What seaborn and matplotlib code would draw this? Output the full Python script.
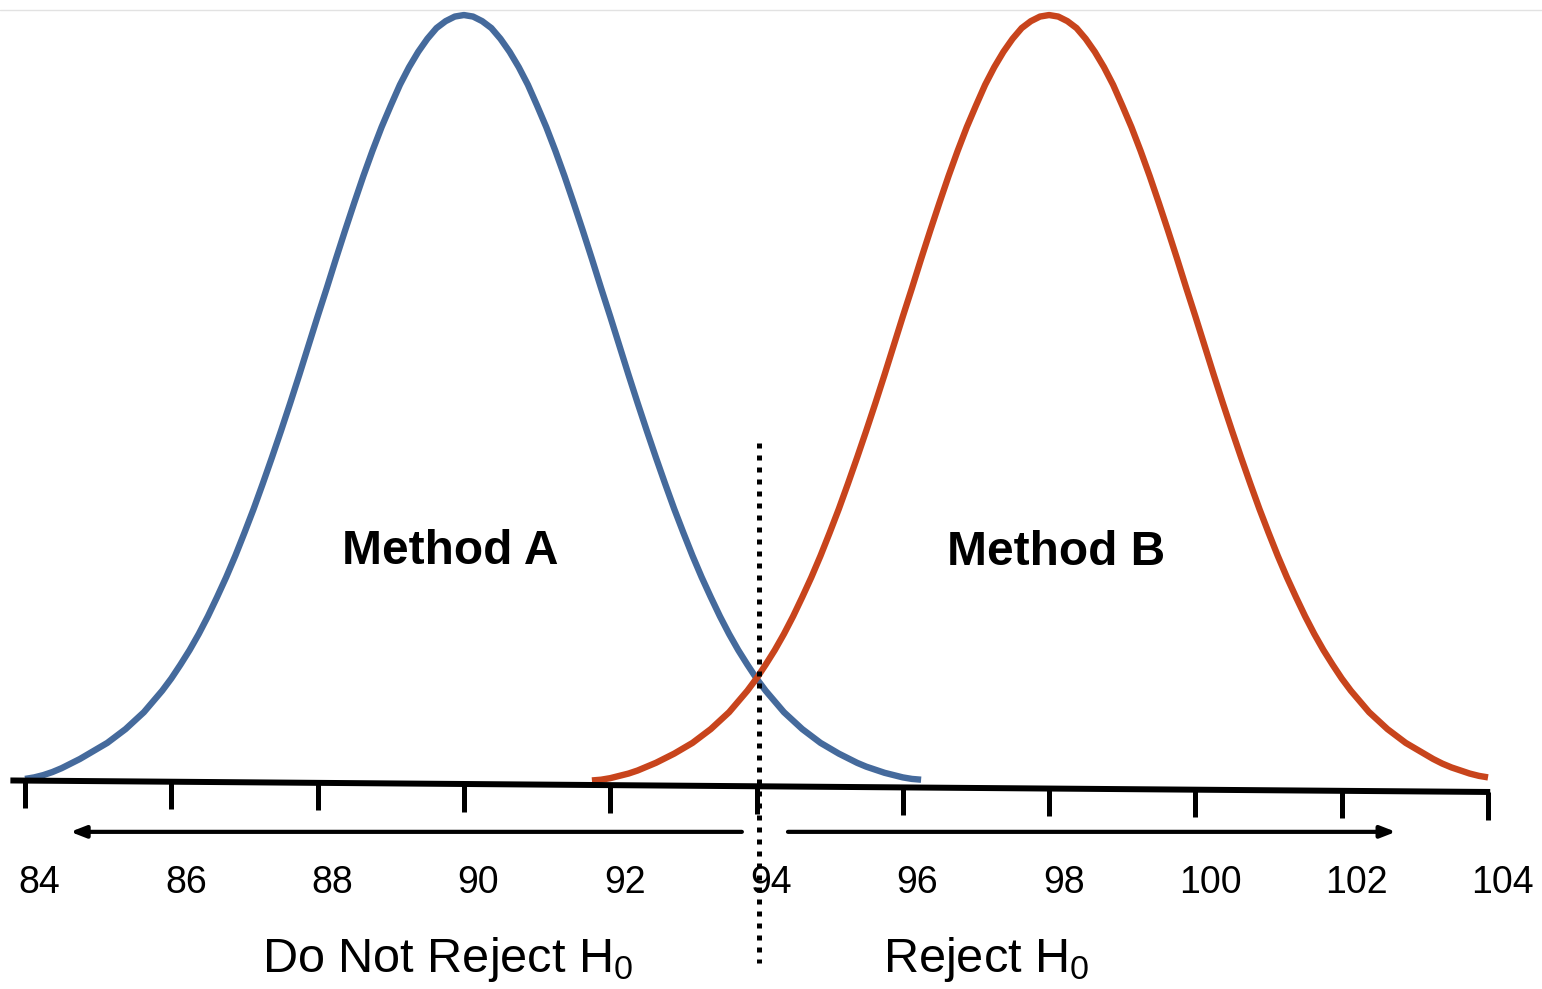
import numpy as np
import pandas as pd
import matplotlib
matplotlib.use("Agg")
import matplotlib.pyplot as plt
import seaborn as sns

# curve heights (peak = 1), every 0.125 on the score scale
score_a = np.arange(84.0, 96.3, 0.125)
height_a = [0.004, 0.006, 0.009, 0.013, 0.018, 0.024, 0.030, 0.037, 0.044, 0.051,
            0.060, 0.069, 0.080, 0.091, 0.105, 0.119, 0.135, 0.153, 0.172, 0.193,
            0.216, 0.241, 0.267, 0.295, 0.325, 0.356, 0.389, 0.423, 0.458, 0.494,
            0.531, 0.569, 0.607, 0.644, 0.682, 0.719, 0.755, 0.790, 0.823, 0.854,
            0.882, 0.909, 0.932, 0.952, 0.969, 0.983, 0.992, 0.998, 1.000,
            0.998, 0.992, 0.983, 0.969, 0.952, 0.932, 0.909, 0.882, 0.854, 0.823,
            0.790, 0.755, 0.719, 0.682, 0.644, 0.607, 0.569, 0.531, 0.494, 0.458,
            0.423, 0.389, 0.356, 0.325, 0.295, 0.267, 0.241, 0.216, 0.193, 0.172,
            0.153, 0.135, 0.119, 0.105, 0.091, 0.080, 0.069, 0.060, 0.051, 0.044,
            0.037, 0.031, 0.025, 0.020, 0.016, 0.012, 0.009, 0.006, 0.004, 0.003]

score_b = np.arange(91.75, 104.05, 0.125)
height_b = [0.002, 0.003, 0.005, 0.008, 0.011, 0.015, 0.020, 0.025, 0.031, 0.037,
            0.044, 0.051, 0.060, 0.069, 0.080, 0.091, 0.105, 0.119, 0.135, 0.153,
            0.172, 0.193, 0.216, 0.241, 0.267, 0.295, 0.325, 0.356, 0.389, 0.423,
            0.458, 0.494, 0.531, 0.569, 0.607, 0.644, 0.682, 0.719, 0.755, 0.790,
            0.823, 0.854, 0.882, 0.909, 0.932, 0.952, 0.969, 0.983, 0.992, 0.998,
            1.000,
            0.998, 0.992, 0.983, 0.969, 0.952, 0.932, 0.909, 0.882, 0.854, 0.823,
            0.790, 0.755, 0.719, 0.682, 0.644, 0.607, 0.569, 0.531, 0.494, 0.458,
            0.423, 0.389, 0.356, 0.325, 0.295, 0.267, 0.241, 0.216, 0.193, 0.172,
            0.153, 0.135, 0.119, 0.105, 0.091, 0.080, 0.069, 0.060, 0.051, 0.044,
            0.037, 0.030, 0.024, 0.019, 0.015, 0.011, 0.008, 0.006]

tick_values = [84, 86, 88, 90, 92, 94, 96, 98, 100, 102, 104]
critical_value = 94.03
method_names = ["Method A", "Method B"]
method_colors = ["#456a9c", "#c8441c"]

df = pd.concat([
    pd.DataFrame({"score": score_a, "height": height_a, "method": method_names[0]}),
    pd.DataFrame({"score": score_b, "height": height_b, "method": method_names[1]}),
])

sns.set_style("white")
plt.rcParams["font.family"] = ["Liberation Sans", "DejaVu Sans"]
plt.rcParams["mathtext.default"] = "regular"
plt.rcParams["text.color"] = "black"

fig = plt.figure(figsize=(15.42, 9.89), dpi=100)
ax = fig.add_axes([0, 0, 1, 1])

sns.lineplot(data=df, x="score", y="height", hue="method", palette=method_colors,
             estimator=None, sort=False, lw=4.6, legend=False, ax=ax,
             solid_capstyle="butt", solid_joinstyle="round")

# base line of the axis, slightly tilted like the drawing
def base_y(x):
    return 0.002 - 0.015 * (x - 83.8) / 20.2

ax.plot([83.8, 104.03], [base_y(83.8), base_y(104.03)], color="black", lw=4.3,
        solid_capstyle="butt")
for t in tick_values:
    ax.plot([t, t], [base_y(t), base_y(t) - 0.036], color="black", lw=3.6,
            solid_capstyle="butt")
    ax.text(t + 0.2, -0.132, str(t), fontsize=27, ha="center", va="center")

# thin grey frame line at the top
ax.axhline(1.0065, color="#e2e2e2", lw=1)

# decision boundary
ax.plot([critical_value, critical_value], [0.442, -0.236], color="black", lw=3.6,
        linestyle=(0, (1, 1.4)), dash_capstyle="butt")

# arrows
arrow = dict(arrowstyle="-|>,head_length=0.9,head_width=0.35", color="black",
             lw=3, shrinkA=0, shrinkB=0)
ax.annotate("", xy=(84.62, -0.065), xytext=(93.80, -0.065), arrowprops=arrow)
ax.annotate("", xy=(102.74, -0.065), xytext=(94.43, -0.065), arrowprops=arrow)

ax.text(89.81, 0.300, method_names[0], fontsize=34.5, fontweight="bold",
        ha="center", va="center")
ax.text(98.09, 0.299, method_names[1], fontsize=34.5, fontweight="bold",
        ha="center", va="center")

ax.text(89.78, -0.232, "Do Not Reject H$_0$", fontsize=35, ha="center", va="center")
ax.text(97.14, -0.232, "Reject H$_0$", fontsize=35, ha="center", va="center")

ax.set_xlim(83.658, 104.738)
ax.set_ylim(-0.2699, 1.0196)
ax.axis("off")

fig.savefig("out.png", dpi=100, facecolor="white")
